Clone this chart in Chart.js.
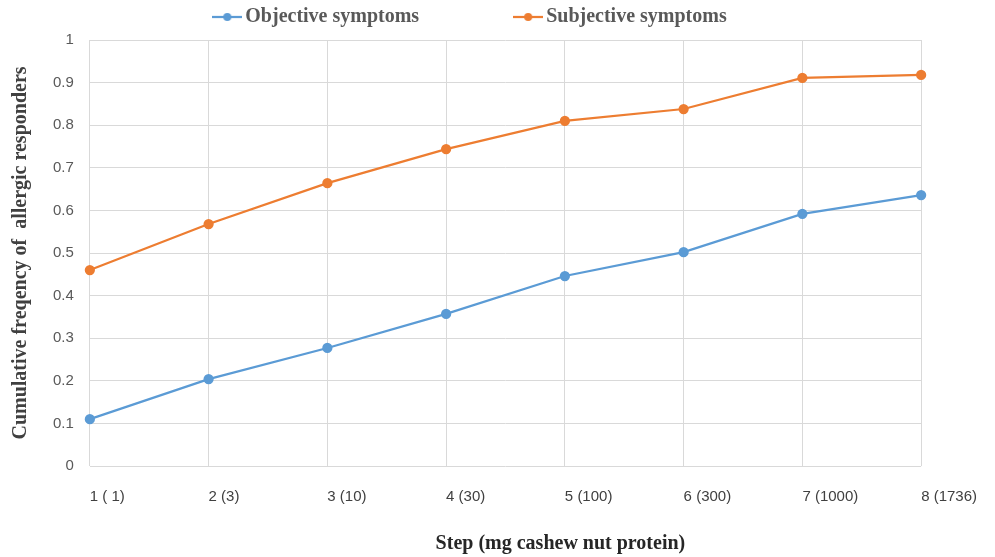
<!DOCTYPE html>
<html>
<head>
<meta charset="utf-8">
<script src="https://cdn.jsdelivr.net/npm/chart.js@4/dist/chart.umd.min.js"></script>
<style>
  html, body { margin: 0; padding: 0; background: #fff; }
  #wrap { width: 995px; height: 557px; }
</style>
</head>
<body>
<div id="wrap"><canvas id="myChart"></canvas></div>
<script>
const steps = ["1 ( 1)", "2 (3)", "3 (10)", "4 (30)", "5 (100)", "6 (300)", "7 (1000)", "8 (1736)"];
const objective = [0.110, 0.204, 0.277, 0.357, 0.446, 0.502, 0.592, 0.636];
const subjective = [0.460, 0.568, 0.664, 0.744, 0.810, 0.838, 0.911, 0.918];

const BLUE = "#5b9bd5";
const ORANGE = "#ed7d31";
const SERIF = "'Liberation Serif', 'DejaVu Serif', serif";
const SANS = "'Liberation Sans Narrow', 'Liberation Sans', sans-serif";

// legend marker: short line with a dot in the middle
function lineMarker(color) {
  const c = document.createElement("canvas");
  c.width = 30;
  c.height = 10;
  const g = c.getContext("2d");
  g.strokeStyle = color;
  g.lineWidth = 2.25;
  g.beginPath();
  g.moveTo(0, 5);
  g.lineTo(30, 5);
  g.stroke();
  g.fillStyle = color;
  g.beginPath();
  g.arc(15, 5, 4, 0, Math.PI * 2);
  g.fill();
  return c;
}

const ctx = document.getElementById("myChart").getContext("2d");

new Chart(ctx, {
  type: "line",
  data: {
    labels: steps,
    datasets: [
      {
        label: "Objective symptoms",
        data: objective,
        borderColor: BLUE,
        backgroundColor: BLUE,
        borderWidth: 2.25,
        pointRadius: 4,
        tension: 0,
      },
      {
        label: "Subjective symptoms",
        data: subjective,
        borderColor: ORANGE,
        backgroundColor: ORANGE,
        borderWidth: 2.25,
        pointRadius: 4,
        tension: 0,
      },
    ],
  },
  options: {
    responsive: true,
    maintainAspectRatio: false,
    animation: false,
    layout: {
      // negative top: the big legend padding is only wanted between the items
      padding: { left: 9, right: 4, top: -91, bottom: 29 },
    },
    elements: {
      point: { pointStyle: "circle" },
    },
    plugins: {
      tooltip: { enabled: false },
      legend: {
        position: "top",
        labels: {
          usePointStyle: true,
          pointStyleWidth: 16,
          padding: 101,
          boxHeight: 10,
          color: "#595959",
          font: { family: SERIF, size: 20, weight: "bold" },
          generateLabels(chart) {
            return chart.data.datasets.map((ds, i) => ({
              text: ds.label,
              fillStyle: ds.borderColor,
              strokeStyle: ds.borderColor,
              fontColor: "#595959",
              lineWidth: 0,
              pointStyle: lineMarker(ds.borderColor),
              datasetIndex: i,
              hidden: false,
            }));
          },
        },
      },
    },
    scales: {
      x: {
        offset: false,
        grid: { color: "#d9d9d9", lineWidth: 1, drawTicks: false },
        border: { display: false },
        afterFit(scale) {
          scale.paddingRight -= 4; // let the last label hang a bit further out
        },
        ticks: {
          align: "start",
          padding: 22,
          maxRotation: 0,
          autoSkip: false,
          color: "#404040",
          font: { family: SANS, size: 15 },
        },
      },
      y: {
        min: 0,
        max: 1,
        grid: { color: "#d9d9d9", lineWidth: 1, drawTicks: false },
        border: { display: false },
        ticks: {
          stepSize: 0.1,
          padding: 16,
          color: "#595959",
          font: { family: SANS, size: 15 },
          callback: (v) => Math.round(v * 10) / 10,
        },
        title: {
          display: true,
          text: "Cumulative freqency of  allergic responders",
          color: "#404040",
          font: { family: SERIF, size: 20, weight: "bold" },
          padding: { top: 0, bottom: 4 },
        },
      },
    },
  },
  plugins: [
    {
      id: "legendNudge",
      afterLayout(chart) {
        const lg = chart.legend;
        lg.left -= 27;
        lg.right -= 27;
        lg.top -= 3;
        lg.bottom -= 3;
      },
    },
    {
      id: "xTitle",
      afterDraw(chart) {
        const { ctx, chartArea } = chart;
        ctx.save();
        ctx.fillStyle = "#262626";
        ctx.font = "bold 20px " + SERIF;
        ctx.textAlign = "center";
        ctx.textBaseline = "middle";
        ctx.fillText("Step (mg cashew nut protein)", (chartArea.left + chart.width) / 2 + 18, chart.height - 13);
        ctx.restore();
      },
    },
  ],
});
</script>
</body>
</html>
